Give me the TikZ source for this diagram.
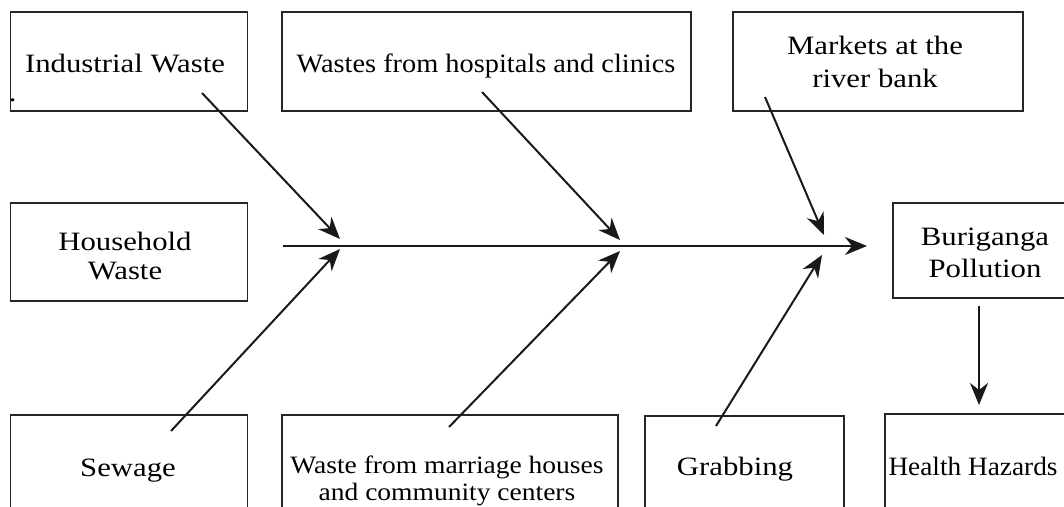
\documentclass[tikz,border=0pt]{standalone}
\usepackage{fontspec}
\newfontfamily\lab{Liberation Serif}[FakeStretch=1.16]
\newfontfamily\labn{Liberation Serif}[FakeStretch=1.07]
\newfontfamily\labm{Liberation Serif}[FakeStretch=1.10]
\newfontfamily\labh{Liberation Serif}[FakeStretch=1.03]
\usetikzlibrary{arrows.meta,calc}
\begin{document}
\begin{tikzpicture}[x=1pt,y=-1pt,
  box/.style={draw=black!85, line width=1.5pt, rectangle, anchor=north west, inner sep=0pt},
  txt/.style={font=\lab\fontsize{26.5}{31}\selectfont, align=center, inner sep=0pt},
  arr/.style={line width=2pt, black!90, -{Stealth[length=22pt,width=18pt,inset=7pt]}}]
\useasboundingbox (0,0) rectangle (1064,506);
\clip (0,0) rectangle (1064,506);
% boxes
\node[box, minimum width=237pt, minimum height=99pt] (ind) at (9.6,11.4) {};
\node[box, minimum width=409pt, minimum height=99pt] (hosp) at (281,11.4) {};
\node[box, minimum width=290pt, minimum height=99pt] (mkt) at (732,11.4) {};
\node[box, minimum width=237pt, minimum height=98pt] (hh) at (9.6,202) {};
\node[box, minimum width=200pt, minimum height=95pt] (bur) at (892,202) {};
\node[box, minimum width=237pt, minimum height=120pt] (sew) at (9.6,414) {};
\node[box, minimum width=336pt, minimum height=120pt] (mar) at (281,414) {};
\node[box, minimum width=199pt, minimum height=120pt] (grab) at (644,415) {};
\node[box, minimum width=200pt, minimum height=120pt] (hlth) at (884,413) {};
% texts
\node[txt, anchor=base] (tind) at (125,72) {Industrial Waste};
\node[txt, anchor=base, font=\labn\fontsize{26.5}{31}\selectfont] (thosp) at (486,72) {Wastes from hospitals and clinics};
\node[txt] (tmkt) at (875,62) {Markets at the\\[2pt]river bank};
\node[txt] (thh) at (125,256) {Household\\[-2pt]Waste};
\node[txt] (tbur) at (985,253) {Buriganga\\[1pt]Pollution};
\node[txt, anchor=base] (tsew) at (128,476) {Sewage};
\node[txt, font=\labm\fontsize{25}{27}\selectfont] (tmar) at (447,481) {Waste from marriage houses\\and community centers};
\node[txt, anchor=base] (tgrab) at (735,475) {Grabbing};
\node[txt, anchor=base, font=\labh\fontsize{26.5}{31}\selectfont] (thlth) at (973,475) {Health Hazards};
\node[txt, anchor=base] (dot) at (12.7,101) {.};
% spine coordinates
\coordinate (s0) at (283,246);
\coordinate (s1) at (867,246);
\coordinate (u1) at (340,239);
\coordinate (l1) at (340,249);
\coordinate (u2) at (620,240);
\coordinate (l2) at (620,251);
\coordinate (u3) at (824,235);
\coordinate (l3) at (822,255);
\coordinate (a1) at (202,93);
\coordinate (a2) at (482,92);
\coordinate (a3) at (765,97);
\coordinate (b1) at (171,431);
\coordinate (b2) at (449,427);
\coordinate (b3) at (716,426);
\coordinate (h0) at (979,306);
\coordinate (h1) at (979,405);
% connectors
\draw[arr] (s0) -- (s1);
\draw[arr] (a1) -- (u1);
\draw[arr] (a2) -- (u2);
\draw[arr] (a3) -- (u3);
\draw[arr] (b1) -- (l1);
\draw[arr] (b2) -- (l2);
\draw[arr] (b3) -- (l3);
\draw[arr] (h0) -- (h1);
\end{tikzpicture}
\end{document}
